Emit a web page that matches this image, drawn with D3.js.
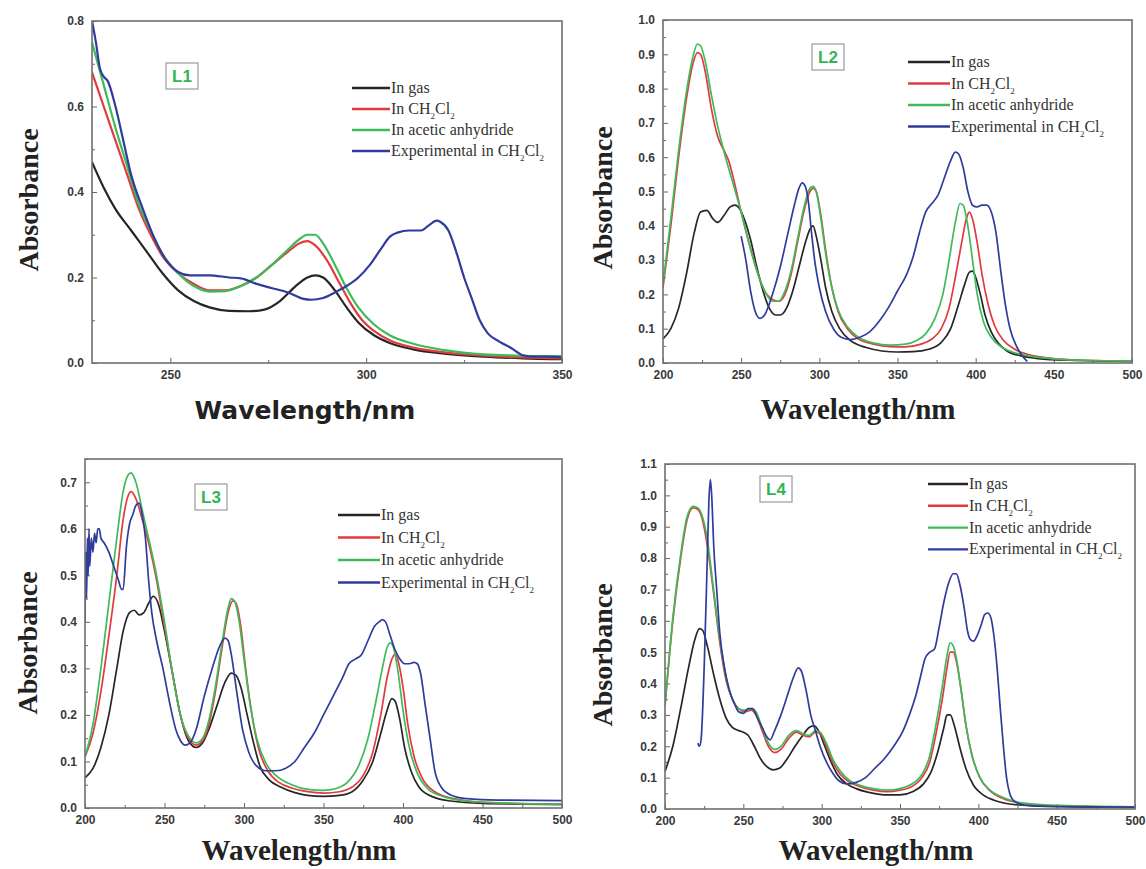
<!DOCTYPE html>
<html>
<head>
<meta charset="utf-8">
<script src="https://cdn.jsdelivr.net/npm/d3@7"></script>
<style>
  body { margin: 0; background: #fff; }
  .tick text { font-family: "Liberation Sans", Arial, sans-serif; font-weight: bold; font-size: 12px; fill: #3a3a3a; }
  .tick line { stroke: #666; }
</style>
</head>
<body>
<svg id="fig" width="1146" height="869"></svg>
<script>
// series names and colours, shared by the four panels
var seriesNames = ["In gas", "In CH2Cl2", "In acetic anhydride", "Experimental in CH2Cl2"];
var seriesColors = ["#262626", "#e23a3f", "#3dbb5a", "#2f3c9c"];

// ---- L1 : wavelength (nm), absorbance ----
var L1_gas = [[230,0.47],[233,0.41],[236,0.36],[240,0.31],[244,0.26],[248,0.21],[252,0.17],[256,0.145],[260,0.13],[265,0.122],[270,0.121],[274,0.125],[278,0.145],[282,0.18],[285,0.2],[287,0.205],[289,0.2],[292,0.17],[295,0.13],[298,0.095],[302,0.065],[306,0.047],[312,0.032],[320,0.022],[330,0.015],[340,0.011],[350,0.009]];
var L1_dcm = [[230,0.68],[233,0.6],[236,0.52],[239,0.44],[242,0.36],[245,0.3],[248,0.25],[252,0.21],[256,0.185],[260,0.17],[264,0.17],[268,0.18],[272,0.2],[276,0.23],[280,0.26],[283,0.28],[285,0.285],[287,0.275],[290,0.24],[293,0.19],[296,0.14],[299,0.1],[302,0.075],[306,0.053],[312,0.036],[320,0.025],[330,0.017],[340,0.013],[350,0.011]];
var L1_acet = [[230,0.75],[233,0.65],[236,0.55],[239,0.46],[242,0.37],[245,0.31],[248,0.255],[252,0.21],[256,0.18],[260,0.167],[264,0.168],[268,0.18],[272,0.2],[276,0.23],[280,0.265],[283,0.29],[285,0.3],[287,0.3],[289,0.28],[292,0.23],[295,0.175],[298,0.13],[302,0.09],[306,0.065],[312,0.045],[320,0.03],[330,0.02],[340,0.017],[350,0.016]];
var L1_exp = [[230,0.8],[231,0.75],[232,0.69],[233,0.67],[234,0.66],[236,0.6],[238,0.52],[240,0.44],[243,0.36],[246,0.29],[249,0.24],[252,0.213],[255,0.205],[260,0.205],[265,0.2],[268,0.198],[272,0.185],[276,0.175],[280,0.165],[284,0.15],[286,0.148],[289,0.152],[292,0.165],[295,0.18],[298,0.2],[301,0.23],[304,0.27],[306,0.295],[308,0.305],[311,0.31],[314,0.31],[316,0.322],[318,0.333],[319,0.33],[321,0.31],[323,0.26],[325,0.2],[327,0.15],[329,0.1],[331,0.07],[334,0.05],[337,0.035],[340,0.018],[343,0.015],[346,0.015],[350,0.013]];

// ---- L2 ----
var L2_gas = [[200,0.07],[205,0.1],[210,0.16],[215,0.26],[220,0.38],[224,0.44],[228,0.445],[232,0.42],[235,0.41],[239,0.43],[243,0.455],[246,0.46],[249,0.45],[252,0.42],[256,0.36],[260,0.28],[264,0.21],[268,0.16],[272,0.14],[275,0.14],[279,0.16],[283,0.21],[287,0.28],[291,0.35],[294,0.39],[296,0.4],[298,0.37],[301,0.3],[304,0.22],[308,0.15],[313,0.1],[320,0.065],[330,0.045],[340,0.035],[350,0.032],[360,0.033],[370,0.04],[378,0.06],[384,0.1],[389,0.17],[393,0.23],[396,0.265],[398,0.268],[400,0.25],[403,0.2],[406,0.14],[410,0.09],[415,0.055],[420,0.035],[430,0.02],[440,0.013],[460,0.008],[500,0.005]];
var L2_dcm = [[200,0.22],[205,0.4],[210,0.6],[215,0.77],[219,0.87],[222,0.905],[224,0.9],[227,0.85],[231,0.74],[235,0.66],[239,0.62],[242,0.59],[246,0.52],[250,0.44],[255,0.35],[260,0.27],[265,0.21],[270,0.185],[274,0.18],[278,0.2],[282,0.26],[286,0.35],[290,0.44],[294,0.5],[296,0.51],[298,0.5],[301,0.43],[304,0.33],[308,0.22],[312,0.15],[318,0.1],[325,0.07],[335,0.055],[345,0.048],[355,0.047],[365,0.055],[372,0.07],[378,0.1],[383,0.16],[387,0.25],[391,0.35],[394,0.42],[396,0.44],[398,0.42],[401,0.35],[404,0.26],[408,0.17],[412,0.11],[418,0.065],[425,0.04],[435,0.023],[450,0.013],[470,0.008],[500,0.005]];
var L2_acet = [[200,0.23],[205,0.42],[210,0.62],[215,0.79],[219,0.89],[222,0.93],[224,0.925],[227,0.88],[231,0.78],[235,0.69],[240,0.6],[245,0.52],[250,0.44],[255,0.35],[260,0.27],[265,0.21],[270,0.18],[274,0.18],[278,0.21],[282,0.27],[286,0.36],[290,0.45],[294,0.51],[296,0.515],[298,0.5],[301,0.42],[304,0.32],[308,0.22],[312,0.155],[318,0.105],[325,0.075],[335,0.058],[345,0.052],[355,0.055],[362,0.065],[368,0.085],[374,0.13],[379,0.2],[383,0.3],[387,0.41],[390,0.465],[392,0.46],[395,0.4],[398,0.3],[401,0.2],[405,0.12],[410,0.075],[417,0.045],[425,0.03],[435,0.02],[450,0.012],[470,0.008],[500,0.006]];
var L2_exp = [[250,0.37],[253,0.3],[256,0.21],[259,0.15],[262,0.13],[265,0.14],[270,0.2],[275,0.28],[280,0.38],[284,0.46],[287,0.51],[289,0.525],[291,0.515],[293,0.47],[295,0.38],[297,0.3],[300,0.22],[304,0.15],[309,0.1],[314,0.075],[320,0.068],[326,0.075],[332,0.09],[338,0.12],[344,0.16],[350,0.21],[356,0.26],[360,0.31],[364,0.38],[368,0.44],[372,0.465],[376,0.49],[380,0.54],[384,0.59],[387,0.615],[389,0.61],[392,0.57],[395,0.5],[398,0.46],[401,0.455],[404,0.46],[407,0.46],[410,0.44],[413,0.38],[416,0.27],[419,0.17],[422,0.1],[426,0.05],[430,0.02],[433,0.005]];

// ---- L3 ----
var L3_gas = [[200,0.065],[205,0.085],[210,0.13],[215,0.2],[220,0.3],[224,0.38],[228,0.42],[231,0.425],[234,0.415],[237,0.42],[240,0.44],[243,0.455],[246,0.44],[250,0.38],[255,0.29],[260,0.2],[265,0.145],[270,0.13],[274,0.14],[278,0.17],[283,0.22],[288,0.27],[292,0.29],[295,0.285],[298,0.26],[302,0.2],[306,0.14],[310,0.09],[316,0.06],[323,0.045],[332,0.033],[340,0.027],[350,0.025],[360,0.027],[368,0.035],[375,0.06],[381,0.1],[386,0.16],[390,0.21],[393,0.235],[395,0.23],[398,0.19],[401,0.13],[405,0.08],[410,0.045],[418,0.025],[430,0.015],[450,0.01],[500,0.008]];
var L3_dcm = [[200,0.11],[205,0.16],[210,0.25],[215,0.37],[220,0.5],[224,0.62],[227,0.67],[229,0.68],[232,0.665],[236,0.62],[240,0.57],[245,0.49],[250,0.39],[255,0.29],[260,0.2],[265,0.15],[270,0.135],[274,0.145],[278,0.18],[282,0.25],[286,0.34],[290,0.42],[293,0.445],[295,0.44],[298,0.39],[301,0.3],[305,0.2],[309,0.13],[315,0.08],[322,0.055],[330,0.043],[340,0.035],[350,0.032],[360,0.035],[368,0.045],[375,0.07],[381,0.12],[386,0.2],[390,0.28],[393,0.32],[395,0.33],[397,0.315],[400,0.26],[403,0.18],[407,0.11],[412,0.065],[420,0.035],[432,0.02],[450,0.012],[500,0.008]];
var L3_acet = [[200,0.11],[205,0.18],[210,0.3],[215,0.44],[220,0.58],[224,0.68],[227,0.715],[229,0.72],[232,0.7],[236,0.64],[240,0.58],[245,0.5],[250,0.4],[255,0.29],[260,0.2],[265,0.155],[270,0.14],[274,0.15],[278,0.19],[282,0.26],[286,0.35],[290,0.43],[292,0.45],[294,0.445],[297,0.4],[300,0.32],[304,0.22],[308,0.15],[314,0.095],[320,0.07],[330,0.05],[340,0.04],[350,0.038],[358,0.042],[365,0.055],[372,0.09],[378,0.15],[383,0.23],[387,0.3],[390,0.345],[392,0.355],[394,0.345],[397,0.29],[400,0.21],[404,0.13],[409,0.075],[416,0.04],[425,0.025],[440,0.015],[470,0.01],[500,0.008]];
var L3_exp = [[200,0.4],[200.5,0.55],[201,0.45],[201.5,0.58],[202,0.5],[202.5,0.6],[203,0.52],[204,0.58],[205,0.55],[206,0.59],[207,0.57],[208,0.6],[209,0.6],[210,0.58],[212,0.57],[215,0.55],[218,0.52],[221,0.49],[223,0.47],[224,0.47],[226,0.56],[228,0.61],[230,0.63],[232,0.65],[234,0.655],[236,0.63],[238,0.58],[240,0.49],[242,0.42],[245,0.36],[249,0.3],[253,0.23],[257,0.17],[260,0.145],[263,0.135],[266,0.14],[270,0.17],[275,0.24],[280,0.3],[285,0.35],[288,0.365],[290,0.36],[292,0.33],[295,0.26],[299,0.17],[303,0.12],[308,0.09],[314,0.08],[320,0.08],[326,0.085],[332,0.1],[338,0.13],[344,0.16],[350,0.2],[356,0.24],[362,0.28],[366,0.31],[370,0.32],[374,0.33],[378,0.36],[382,0.39],[385,0.4],[387,0.405],[389,0.4],[392,0.37],[395,0.34],[398,0.32],[401,0.31],[404,0.31],[407,0.313],[409,0.31],[411,0.29],[414,0.22],[417,0.15],[420,0.08],[424,0.045],[430,0.028],[440,0.02],[460,0.017],[500,0.016]];

// ---- L4 ----
var L4_gas = [[200,0.12],[205,0.2],[210,0.32],[215,0.45],[219,0.54],[222,0.575],[224,0.57],[227,0.52],[231,0.43],[235,0.35],[239,0.29],[243,0.26],[247,0.25],[250,0.245],[253,0.235],[257,0.2],[261,0.16],[265,0.135],[269,0.125],[273,0.13],[278,0.16],[283,0.2],[288,0.235],[292,0.26],[295,0.265],[298,0.25],[302,0.2],[306,0.15],[310,0.11],[316,0.08],[322,0.065],[330,0.053],[340,0.045],[350,0.045],[358,0.055],[365,0.08],[370,0.12],[374,0.18],[378,0.26],[380,0.3],[382,0.3],[385,0.26],[388,0.2],[392,0.13],[397,0.075],[403,0.045],[410,0.028],[420,0.016],[435,0.01],[460,0.007],[500,0.005]];
var L4_dcm = [[200,0.33],[205,0.6],[210,0.8],[214,0.92],[218,0.96],[221,0.955],[224,0.92],[227,0.84],[231,0.69],[235,0.53],[239,0.41],[243,0.35],[247,0.32],[251,0.31],[255,0.315],[258,0.3],[262,0.25],[266,0.2],[270,0.18],[274,0.19],[279,0.225],[284,0.245],[288,0.235],[292,0.23],[296,0.245],[299,0.24],[303,0.2],[307,0.15],[312,0.11],[318,0.085],[325,0.07],[333,0.06],[342,0.055],[350,0.06],[357,0.07],[364,0.1],[369,0.15],[373,0.24],[377,0.35],[380,0.45],[382,0.5],[384,0.5],[386,0.47],[389,0.38],[392,0.27],[396,0.17],[401,0.1],[407,0.06],[415,0.035],[425,0.02],[440,0.012],[470,0.008],[500,0.006]];
var L4_acet = [[200,0.33],[205,0.61],[210,0.81],[214,0.93],[218,0.965],[221,0.96],[224,0.93],[227,0.86],[231,0.7],[235,0.54],[239,0.42],[243,0.35],[247,0.32],[251,0.315],[255,0.32],[258,0.31],[262,0.26],[266,0.21],[270,0.19],[274,0.2],[279,0.235],[284,0.25],[288,0.24],[292,0.235],[296,0.25],[299,0.245],[303,0.21],[307,0.16],[312,0.12],[318,0.09],[325,0.075],[333,0.065],[342,0.06],[350,0.065],[357,0.078],[364,0.11],[369,0.17],[373,0.27],[377,0.39],[380,0.49],[382,0.53],[384,0.52],[386,0.48],[389,0.38],[392,0.27],[396,0.17],[401,0.1],[407,0.062],[415,0.038],[425,0.022],[440,0.014],[470,0.009],[500,0.007]];
var L4_exp = [[221,0.21],[222,0.2],[223,0.22],[225,0.45],[227,0.8],[228,0.98],[229,1.05],[230,0.98],[231,0.85],[233,0.7],[235,0.56],[238,0.45],[241,0.38],[244,0.34],[247,0.31],[250,0.305],[253,0.32],[256,0.32],[259,0.29],[262,0.26],[265,0.23],[267,0.22],[270,0.25],[274,0.3],[278,0.36],[282,0.42],[285,0.45],[287,0.44],[290,0.38],[293,0.3],[296,0.25],[299,0.2],[303,0.15],[307,0.115],[311,0.09],[316,0.08],[322,0.085],[328,0.1],[334,0.13],[340,0.16],[346,0.2],[352,0.25],[356,0.3],[360,0.36],[363,0.42],[366,0.48],[369,0.5],[372,0.51],[375,0.58],[378,0.66],[381,0.72],[384,0.75],[386,0.75],[388,0.72],[391,0.64],[393,0.57],[395,0.54],[397,0.535],[399,0.55],[402,0.59],[404,0.62],[406,0.625],[408,0.61],[410,0.55],[412,0.45],[414,0.32],[416,0.2],[418,0.1],[420,0.05],[423,0.025],[430,0.012],[450,0.008],[500,0.006]];

// tick values
var L1_xTicks = [250, 300, 350], L1_yTicks = [0, 0.2, 0.4, 0.6, 0.8];
var wideXTicks = [200, 250, 300, 350, 400, 450, 500];
var L2_yTicks = d3.range(0, 11).map(d => d / 10);
var L3_yTicks = d3.range(0, 8).map(d => d / 10);
var L4_yTicks = d3.range(0, 12).map(d => d / 10);

var svg = d3.select('#fig');

var panels = [
  {name: 'L1', left: 92, right: 562, top: 21, bottom: 363, xDom: [230, 350], yDom: [0, 0.8],
   xTicks: L1_xTicks, yTicks: L1_yTicks, xMinor: [275, 325], yMinor: [0.1, 0.3, 0.5, 0.7], yFmt: '.1f',
   series: [L1_gas, L1_dcm, L1_acet, L1_exp], width: 2.2,
   legend: {x: 352, y: 88, gap: 21, len: 38}, box: {x: 182, y: 76},
   ytitle: {x: 38, y: 200}, xtitle: {x: 305, y: 419, sans: true}},
  {name: 'L2', left: 663, right: 1132, top: 20, bottom: 363, xDom: [200, 500], yDom: [0, 1.0],
   xTicks: wideXTicks, yTicks: L2_yTicks, yFmt: '.1f',
   series: [L2_gas, L2_dcm, L2_acet, L2_exp], width: 1.7,
   legend: {x: 908, y: 62, gap: 21.5, len: 42}, box: {x: 828, y: 57},
   ytitle: {x: 612, y: 198}, xtitle: {x: 858, y: 419}},
  {name: 'L3', left: 85, right: 562, top: 459, bottom: 808, xDom: [200, 500], yDom: [0, 0.75],
   xTicks: wideXTicks, yTicks: L3_yTicks, yFmt: '.1f',
   series: [L3_gas, L3_dcm, L3_acet, L3_exp], width: 1.7,
   legend: {x: 338, y: 515, gap: 22.5, len: 42}, box: {x: 211, y: 497},
   ytitle: {x: 37, y: 643}, xtitle: {x: 299, y: 860}},
  {name: 'L4', left: 665, right: 1135, top: 464, bottom: 809, xDom: [200, 500], yDom: [0, 1.1],
   xTicks: wideXTicks, yTicks: L4_yTicks, yFmt: '.1f',
   series: [L4_gas, L4_dcm, L4_acet, L4_exp], width: 1.7,
   legend: {x: 928, y: 484, gap: 21.8, len: 40}, box: {x: 776, y: 489},
   ytitle: {x: 612, y: 655}, xtitle: {x: 876, y: 860}}
];

panels.forEach(drawPanel);

function drawPanel(p) {
  var x = d3.scaleLinear().domain(p.xDom).range([p.left, p.right]);
  var y = d3.scaleLinear().domain(p.yDom).range([p.bottom, p.top]);
  var g = svg.append('g').attr('id', 'panel-' + p.name);

  // minor ticks: halfway between majors unless given
  var xMinor = p.xMinor || d3.range(p.xDom[0] + 25, p.xDom[1], 50);
  var yMinor = p.yMinor || d3.range(0, p.yDom[1] - 0.01, 0.1).map(d => +(d + 0.05).toFixed(2));

  g.append('g')
    .attr('transform', 'translate(0,' + p.bottom + ')')
    .call(d3.axisBottom(x).tickValues(p.xTicks).tickSizeInner(-5).tickSizeOuter(0).tickPadding(7).tickFormat(d3.format('d')))
    .call(a => a.select('.domain').remove());
  g.append('g')
    .attr('transform', 'translate(0,' + p.bottom + ')')
    .call(d3.axisBottom(x).tickValues(xMinor).tickSizeInner(-3).tickSizeOuter(0).tickFormat(''))
    .call(a => a.select('.domain').remove());
  g.append('g')
    .attr('transform', 'translate(' + p.left + ',0)')
    .call(d3.axisLeft(y).tickValues(p.yTicks).tickSizeInner(-5).tickSizeOuter(0).tickPadding(8).tickFormat(d3.format(p.yFmt)))
    .call(a => a.select('.domain').remove());
  g.append('g')
    .attr('transform', 'translate(' + p.left + ',0)')
    .call(d3.axisLeft(y).tickValues(yMinor).tickSizeInner(-3).tickSizeOuter(0).tickFormat(''))
    .call(a => a.select('.domain').remove());

  // curves, clipped to the frame
  g.append('clipPath').attr('id', 'clip-' + p.name)
    .append('rect').attr('x', p.left).attr('y', p.top - 2)
    .attr('width', p.right - p.left).attr('height', p.bottom - p.top + 2);

  var line = d3.line().x(d => x(d[0])).y(d => y(d[1])).curve(d3.curveMonotoneX);
  var order = [0, 1, 2, 3];
  g.append('g').attr('clip-path', 'url(#clip-' + p.name + ')')
    .selectAll('path')
    .data(order)
    .enter()
    .append('path')
      .attr('d', i => line(p.series[i]))
      .style('fill', 'none')
      .style('stroke', i => seriesColors[i])
      .style('stroke-width', p.width)
      .style('stroke-linejoin', 'round');

  // frame
  g.append('rect')
    .attr('x', p.left).attr('y', p.top)
    .attr('width', p.right - p.left).attr('height', p.bottom - p.top)
    .style('fill', 'none').style('stroke', '#707070').style('stroke-width', 1.6);

  // legend
  var lg = g.append('g').attr('transform', 'translate(' + p.legend.x + ',' + p.legend.y + ')');
  seriesNames.forEach(function (name, i) {
    var row = lg.append('g').attr('transform', 'translate(0,' + (i * p.legend.gap) + ')');
    row.append('line').attr('x1', 0).attr('x2', p.legend.len).attr('y1', 0).attr('y2', 0)
      .style('stroke', seriesColors[i]).style('stroke-width', 2.4);
    var t = row.append('text').attr('x', p.legend.len + 1).attr('y', 5)
      .style('font-family', '"Liberation Serif", "Times New Roman", serif')
      .style('font-size', '16px').style('fill', '#333');
    var parts = name.split('CH2Cl2');
    t.append('tspan').text(parts[0]);
    if (parts.length > 1) {
      t.append('tspan').text('CH');
      t.append('tspan').text('2').attr('dy', 5).style('font-size', '9px');
      t.append('tspan').text('Cl').attr('dy', -5);
      t.append('tspan').text('2').attr('dy', 5).style('font-size', '9px');
    }
  });

  // panel label box
  g.append('rect')
    .attr('x', p.box.x - 16).attr('y', p.box.y - 13).attr('width', 32).attr('height', 26)
    .style('fill', '#fff').style('stroke', '#9a9a9a').style('stroke-width', 1.2);
  g.append('text')
    .attr('x', p.box.x).attr('y', p.box.y + 6)
    .attr('text-anchor', 'middle')
    .style('font-family', '"Liberation Sans", Arial, sans-serif')
    .style('font-weight', 'bold').style('font-size', '17px').style('fill', '#35b356')
    .text(p.name);

  // axis titles
  g.append('text')
    .attr('transform', 'translate(' + p.ytitle.x + ',' + p.ytitle.y + ') rotate(-90)')
    .attr('text-anchor', 'middle')
    .style('font-family', '"Liberation Serif", "Times New Roman", serif')
    .style('font-weight', 'bold').style('font-size', '28px').style('fill', '#222')
    .text('Absorbance');
  g.append('text')
    .attr('x', p.xtitle.x).attr('y', p.xtitle.y)
    .attr('text-anchor', 'middle')
    .style('font-family', p.xtitle.sans ? '"DejaVu Sans", Arial, sans-serif' : '"Liberation Serif", "Times New Roman", serif')
    .style('font-weight', 'bold').style('font-size', p.xtitle.sans ? '25px' : '29px').style('fill', '#222')
    .text('Wavelength/nm');
}
</script>
</body>
</html>
